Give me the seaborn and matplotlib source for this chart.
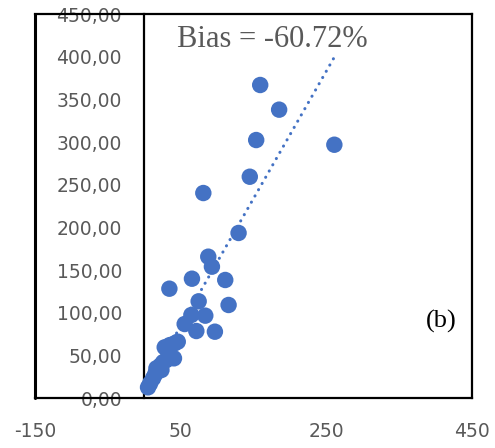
import numpy as np
import pandas as pd
import matplotlib
matplotlib.use("Agg")
import matplotlib.pyplot as plt
import seaborn as sns
from matplotlib.ticker import FuncFormatter

# Data
x_vals = [159.2, 185.2, 153.7, 261.0, 144.9, 81.1, 129.5, 87.9, 92.9, 65.5,
          111.2, 34.5, 74.7, 115.8, 64.7, 83.8, 55.5, 71.5, 97.0, 41.8,
          28.1, 40.8, 30.4, 23.6, 16.7, 12.1, 5.2,
          8.0, 15.0, 22.0, 26.0, 36.0, 35.0, 46.0]
y_vals = [366.8, 337.9, 302.3, 296.8, 259.3, 240.2, 193.4, 165.6, 153.9, 139.8,
          138.3, 128.1, 113.3, 109.0, 97.3, 96.5, 86.7, 78.5, 77.7, 64.1,
          59.4, 46.5, 44.5, 32.8, 34.8, 23.1, 12.5,
          17.0, 28.0, 38.0, 42.0, 48.0, 62.0, 66.0]
x_ticks = [-150, 50, 250, 450]
y_ticks = [0, 50, 100, 150, 200, 250, 300, 350, 400, 450]
bias_label = "Bias = -60.72%"
panel_label = "(b)"

df = pd.DataFrame({"x": x_vals, "y": y_vals})

sns.set_style("white")
plt.rcParams['font.family'] = ['DejaVu Sans']
plt.rcParams['axes.unicode_minus'] = False

fig = plt.figure(figsize=(4.95, 4.48), dpi=100)
ax = fig.add_axes([35/495, 1-398/448, (472-35)/495, (398-14)/448])

blue = "#4472C4"
sns.regplot(data=df, x="x", y="y", ax=ax, ci=None,
            scatter_kws=dict(s=140, color=blue, edgecolor="none", alpha=1, zorder=3),
            line_kws=dict(color=blue, lw=2.2, linestyle=(0, (0.05, 2.3)),
                          dash_capstyle="round", zorder=2))

ax.set_xlim(-150, 450)
ax.set_ylim(0, 450)
ax.set_xticks(x_ticks)
ax.set_yticks(y_ticks)
ax.yaxis.set_major_formatter(FuncFormatter(lambda v, p: f"{v:.2f}".replace(".", ",")))
ax.set_xlabel("")
ax.set_ylabel("")

for s in ["top", "right", "bottom"]:
    ax.spines[s].set_visible(True)
    ax.spines[s].set_color("black")
    ax.spines[s].set_linewidth(1.6)
ax.spines["left"].set_position(("data", 0))
ax.spines["left"].set_color("black")
ax.spines["left"].set_linewidth(1.6)
ax.axvline(-150, color="black", lw=2.2, clip_on=False, zorder=5)

ax.tick_params(axis="y", length=0, pad=16, labelsize=13.5, labelcolor="#595959")
ax.tick_params(axis="x", length=0, pad=17, labelsize=13.5, labelcolor="#595959")

ax.text(0.542, 0.972, bias_label, transform=ax.transAxes, ha="center", va="top",
        fontsize=22, color="#595959", family="Liberation Serif")
ax.text(0.965, 0.20, panel_label, transform=ax.transAxes, ha="right", va="center",
        fontsize=19, color="black", family="Liberation Serif")

fig.savefig("out.png", dpi=100)
